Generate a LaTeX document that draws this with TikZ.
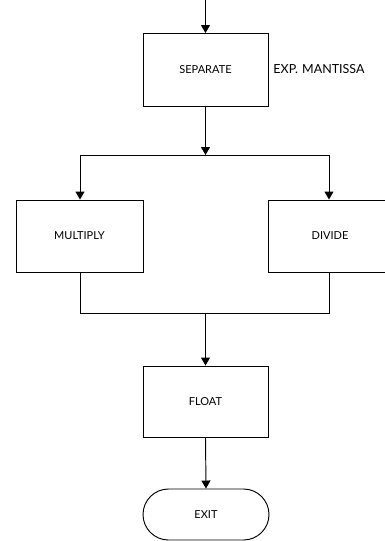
\documentclass[tikz,border=0pt]{standalone}
\usepackage{fontspec}
\setmainfont{Lato}
\usetikzlibrary{arrows.meta,shapes.misc}
\begin{document}
\begin{tikzpicture}[x=1pt,y=-1pt,
  line width=0.95pt,
  boxtext/.style={font=\fontsize{11}{13}\selectfont},
  proc/.style={draw,boxtext,inner sep=0pt,minimum width=125pt,minimum height=73pt},
  term/.style={draw,boxtext,rounded rectangle,inner sep=0pt,minimum width=126pt,minimum height=51pt},
  flow/.style={-{Triangle[length=8pt,width=9pt]}},
  link/.style={}
]
\useasboundingbox (0,0) rectangle (384,541);

% process boxes
\node[proc] (sep) at (205.5,70) {SEPARATE};
\node[proc,minimum width=127pt,minimum height=72pt] (mul) at (79.5,236) {MULTIPLY};
\node[proc,minimum width=124pt,minimum height=72pt] (div) at (330,236) {DIVIDE};
\node[proc,minimum height=71pt] (flt) at (205.5,401.5) {FLOAT};
\node[term] (exit) at (206,514.5) {EXIT};

% side note
\node[anchor=west,inner sep=0pt,font=\fontsize{12.5}{14}\selectfont] (note) at (273,69) {EXP.\,\,MANTISSA};

% junction points
\coordinate (entry) at (205.5,0);
\coordinate (split) at (205.5,155);
\coordinate (splitL) at (80,155);
\coordinate (splitR) at (329,155);
\coordinate (merge) at (205.5,313);

% connectors
\draw[flow] (entry) -- (sep.north);
\draw[flow] (sep.south) -- (split);
\draw[link] (splitL) -- (splitR);
\draw[flow] (splitL) -- (splitL |- mul.north);
\draw[flow] (splitR) -- (splitR |- div.north);
\draw[link] (splitL |- mul.south) |- (merge);
\draw[link] (merge) -| (splitR |- div.south);
\draw[flow] (merge) -- (flt.north);
\draw[flow] (flt.south) -- (exit.north);
\end{tikzpicture}
\end{document}
